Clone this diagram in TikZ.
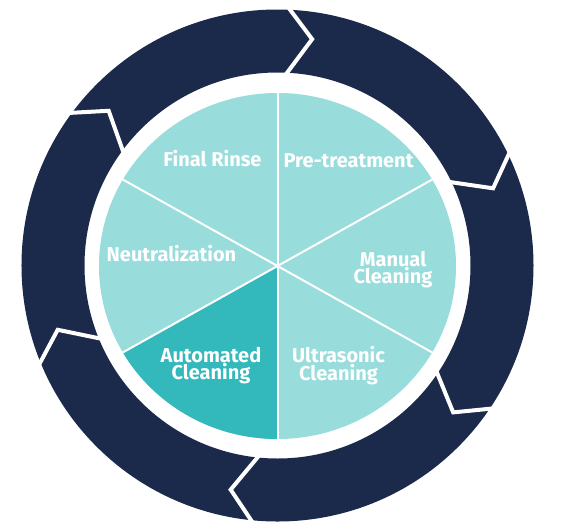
\documentclass[tikz,border=0pt]{standalone}
\usepackage{fontspec}
\setmainfont{Fira Sans}
\usetikzlibrary{calc}
\definecolor{navy}{HTML}{1B294B}
\definecolor{lteal}{HTML}{99DCDC}
\definecolor{dteal}{HTML}{33B8BC}
\tikzset{
  ring/.style={fill=navy},
  gap/.style={draw=white, line width=4pt, line join=miter},
  sepline/.style={draw=white, line width=2pt},
  label/.style={text=white, font=\fontsize{20}{17.5}\selectfont\bfseries, align=center, inner sep=0pt}
}
\begin{document}
\begin{tikzpicture}[x=1pt,y=1pt]
\useasboundingbox (-277.5,-265.5) rectangle (286.5,265.5);
\coordinate (o) at (0,0);
\coordinate (c) at (0,-0.5);
% outer ring
\fill[ring, even odd rule] (o) circle (256) (o) circle (193);
% chevron gaps
\foreach \t in {88.6, 27.0, -32.6, -94.5, -156.4, 144.8}{
  \draw[gap] ($(o)+(\t:186)$) -- ($(o)+(\t-7.3:229)$) -- ($(o)+(\t:264)$);
}
% inner disc
\fill[lteal] (c) ellipse [x radius=178.5, y radius=173];
\begin{scope}
  \clip (c) ellipse [x radius=178.5, y radius=173];
  \fill[dteal] (c) -- ($(c)+(209.2:400)$) -- ($(c)+(240:400)$) -- ($(c)+(270:400)$) -- cycle;
  \foreach \a in {29.2, 90, 150.8, 209.2, 270, 330.8}{
    \draw[sepline] (c) -- ($(c)+(\a:400)$);
  }
\end{scope}
% labels
\node[label, anchor=base] (fr) at (-65,99.5) {Final Rinse};
\node[label, anchor=base] (pt) at (71,98.5) {Pre-treatment};
\node[label, anchor=base] (ne) at (-106,4.5) {Neutralization};
\node[label] (mc) at (115.5,-4) {Manual\\Cleaning};
\node[label] (ac) at (-66.5,-100) {Automated\\Cleaning};
\node[label] (uc) at (61,-100) {Ultrasonic\\Cleaning};
\end{tikzpicture}
\end{document}
